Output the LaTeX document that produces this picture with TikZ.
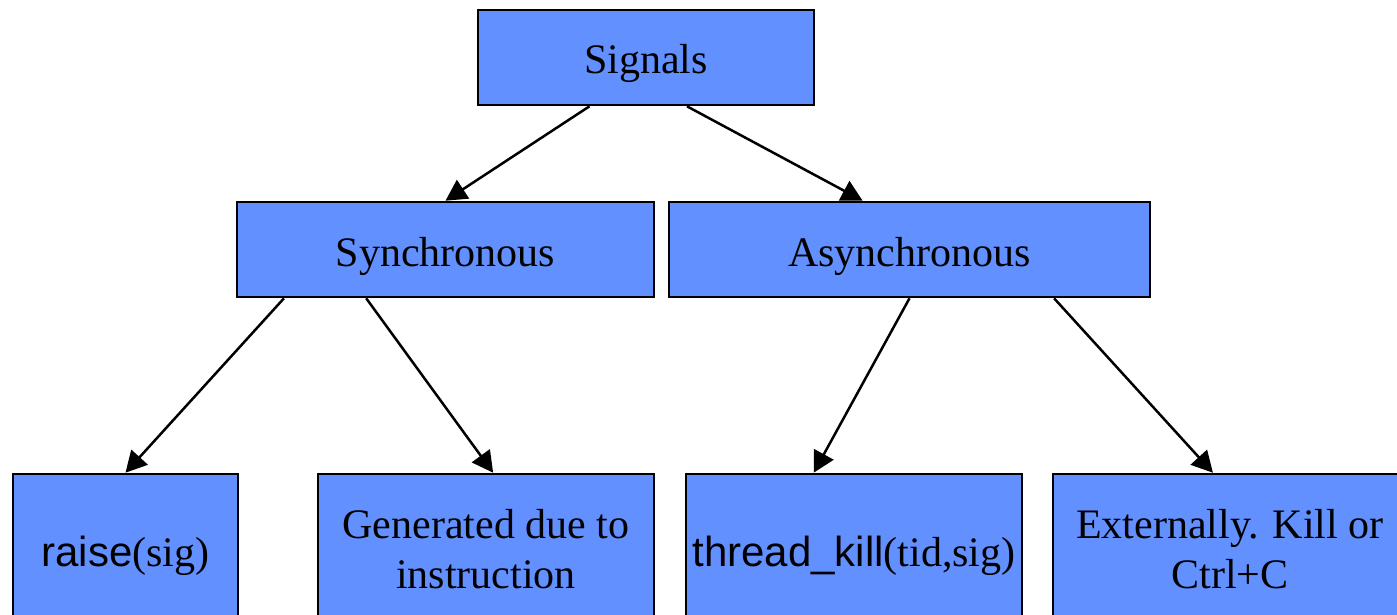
\documentclass[tikz,border=0pt]{standalone}
\usepackage{fontspec}
\setmainfont{Liberation Serif}
\newfontfamily\arialfont{Liberation Sans}
\usetikzlibrary{arrows.meta,calc,backgrounds}
\definecolor{boxblue}{RGB}{98,144,255}
\tikzset{
  sigbox/.style={draw=black, line width=2.6pt, fill=boxblue, inner sep=0pt,
    align=center, font=\fontsize{42}{50}\selectfont},
  oneline/.style={text height=33pt, text depth=0pt},
  link/.style={line width=2.5pt, -{Triangle[length=21pt,width=22pt]}}
}
\begin{document}
\begin{tikzpicture}[x=1pt,y=-1pt]
  \useasboundingbox (0,0) rectangle (1397,615);
  \clip (0,0) rectangle (1397,615);
  % tree of signal kinds
  \node[sigbox, oneline, minimum width=336pt, minimum height=95pt] (sig) at (646,57.5) {Signals};
  \node[sigbox, oneline, minimum width=417pt, minimum height=95pt] (syn) at (445.5,249.5) {Synchronous};
  \node[sigbox, oneline, minimum width=481pt, minimum height=95pt] (asy) at (909.5,249.5) {Asynchronous};
  \node[sigbox, oneline, minimum width=225pt, minimum height=151pt] (rai) at (125.5,549.5) {{\arialfont raise}(sig)};
  \node[sigbox, minimum width=336pt, minimum height=151pt] (gen) at (486,549.5) {Generated due to\\instruction};
  \node[sigbox, oneline, minimum width=336pt, minimum height=151pt] (thr) at (854,549.5) {{\arialfont thread\_kill}(tid,sig)};
  \node[sigbox, minimum width=354pt, minimum height=151pt] (ext) at (1230,549.5) {Externally. Kill or\\Ctrl+C};
  % connectors
  \begin{scope}[on background layer]
    \draw[link] ($(sig.south west)!0.333!(sig.south east)$) -- (syn.north);
    \draw[link] ($(sig.south west)!0.621!(sig.south east)$) -- ($(asy.north west)!0.403!(asy.north east)$);
    \draw[link] ($(syn.south west)!0.115!(syn.south east)$) -- (rai.north);
    \draw[link] ($(syn.south west)!0.311!(syn.south east)$) -- ($(gen.north west)!0.521!(gen.north east)$);
    \draw[link] (asy.south) -- ($(thr.north west)!0.381!(thr.north east)$);
    \draw[link] ($(asy.south west)!0.799!(asy.south east)$) -- ($(ext.north west)!0.452!(ext.north east)$);
  \end{scope}
\end{tikzpicture}
\end{document}
